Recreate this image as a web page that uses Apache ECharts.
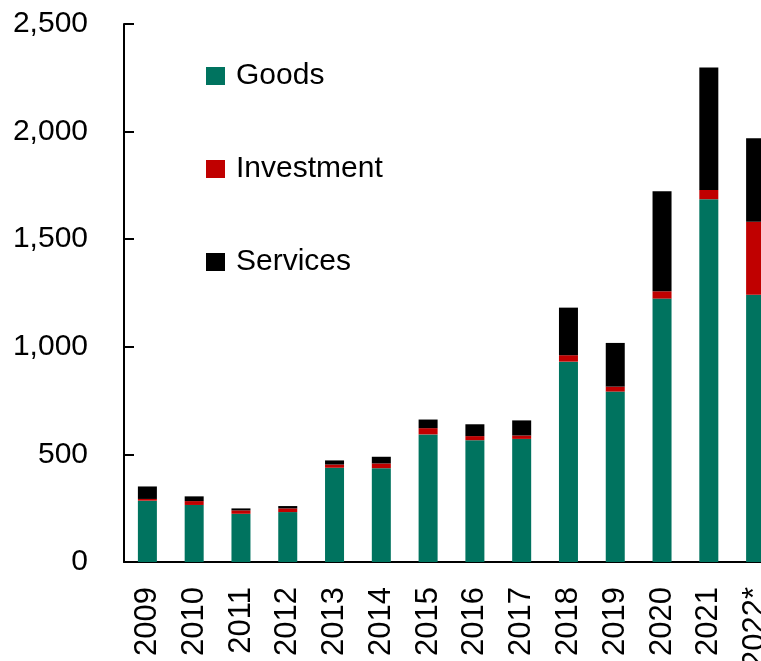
<!DOCTYPE html>
<html>
<head>
<meta charset="utf-8">
<script src="https://cdn.jsdelivr.net/npm/echarts@6/dist/echarts.min.js"></script>
<style>
  html, body { margin: 0; padding: 0; background: #fff; }
  #chart { width: 761px; height: 661px; }
</style>
</head>
<body>
<div id="chart"></div>
<script>
// Yearly totals split by category
const years = ['2009', '2010', '2011', '2012', '2013', '2014', '2015', '2016', '2017', '2018', '2019', '2020', '2021', '2022*'];
const goods = [285, 265, 224, 232, 438, 436, 593, 566, 572, 931, 792, 1224, 1686, 1242];
const investment = [8, 18, 16, 17, 15, 22, 29, 19, 16, 30, 23, 34, 43, 339];
const services = [58, 22, 9, 11, 19, 31, 40, 55, 70, 221, 203, 465, 569, 388];
const yTicks = [0, 500, 1000, 1500, 2000, 2500];

const FONT = "'Liberation Sans', Arial, sans-serif";
const colors = { goods: '#00735F', investment: '#C00000', services: '#000000' };

const chart = echarts.init(document.getElementById('chart'), null, { renderer: 'canvas' });

function barSeries(name, data, color) {
  return {
    name: name,
    type: 'bar',
    stack: 'total',
    data: data,
    barWidth: 19,
    itemStyle: { color: color },
    emphasis: { disabled: true }
  };
}

chart.setOption({
  animation: false,
  backgroundColor: '#ffffff',
  textStyle: { fontFamily: FONT },
  grid: { left: 124, right: -18, top: 24, bottom: 99, containLabel: false, outerBoundsMode: 'none' },
  legend: {
    orient: 'vertical',
    left: 206,
    top: 58,
    padding: 0,
    itemWidth: 19,
    itemHeight: 18,
    itemGap: 57,
    icon: 'rect',
    selectedMode: false,
    data: ['Goods', 'Investment', 'Services'],
    textStyle: { fontFamily: FONT, fontSize: 30, color: '#000', lineHeight: 36, padding: [0, 0, 0, 6] }
  },
  xAxis: {
    type: 'category',
    data: years,
    axisLine: { show: true, lineStyle: { color: '#000', width: 2 } },
    axisTick: { show: false },
    axisLabel: {
      rotate: 90,
      margin: 25,
      interval: 0,
      fontFamily: FONT,
      fontSize: 31,
      color: '#000'
    },
    splitLine: { show: false }
  },
  yAxis: {
    type: 'value',
    min: yTicks[0],
    max: yTicks[yTicks.length - 1],
    interval: 500,
    axisLine: { show: true, lineStyle: { color: '#000', width: 2 } },
    axisTick: { show: true, inside: true, length: 10, lineStyle: { color: '#000', width: 2 } },
    axisLabel: {
      margin: 36,
      fontFamily: FONT,
      fontSize: 30,
      color: '#000',
      formatter: function (v) { return v.toLocaleString('en-US'); }
    },
    splitLine: { show: false }
  },
  series: [
    barSeries('Goods', goods, colors.goods),
    barSeries('Investment', investment, colors.investment),
    barSeries('Services', services, colors.services)
  ]
});
</script>
</body>
</html>
